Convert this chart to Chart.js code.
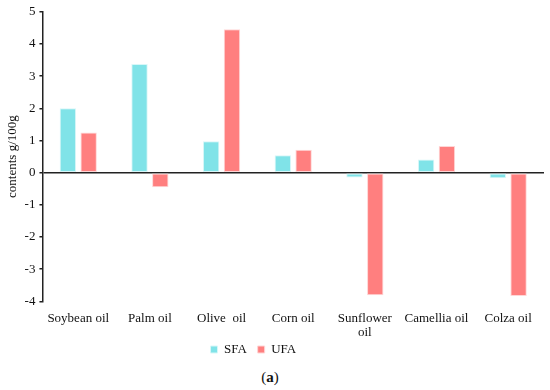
<!DOCTYPE html>
<html>
<head>
<meta charset="utf-8">
<script src="https://cdn.jsdelivr.net/npm/chart.js@4/dist/chart.umd.min.js"></script>
<style>
  body { margin: 0; background: #fff; }
  #wrap { position: relative; width: 550px; height: 366px; }
  #caption { position: absolute; top: 369px; left: 0; width: 540px; text-align: center;
             font: 15px "Liberation Serif", serif; color: #111; }
</style>
</head>
<body>
<div id="wrap"><canvas id="chart"></canvas></div>
<div id="caption">(<b>a</b>)</div>
<script>
// oils on the x axis
const oils = ['Soybean oil', 'Palm oil', 'Olive  oil', 'Corn oil', ['Sunflower', 'oil'], 'Camellia oil', 'Colza oil'];
// contents g/100g
const sfa = [2.0, 3.38, 0.98, 0.54, -0.15, 0.41, -0.17];
const ufa = [1.25, -0.45, 4.46, 0.71, -3.81, 0.83, -3.83];

const serif = '"Liberation Serif", "Times New Roman", serif';

// trailing spaces: gap between the legend items, and nudge the legend left of centre
const legendPad = ['   ', '             '];

new Chart(document.getElementById('chart'), {
  type: 'bar',
  data: {
    labels: oils,
    datasets: [
      { label: 'SFA', data: sfa, backgroundColor: '#80e3e8', borderColor: '#d8f7f8', borderWidth: 1, borderSkipped: false },
      { label: 'UFA', data: ufa, backgroundColor: '#ff7f7f', borderColor: '#ffd6d6', borderWidth: 1, borderSkipped: false }
    ]
  },
  options: {
    responsive: true,
    maintainAspectRatio: false,
    animation: false,
    layout: { padding: { top: 2, right: 6, left: 5, bottom: 0 } },
    datasets: { bar: { categoryPercentage: 0.58, barPercentage: 0.79 } },
    plugins: {
      legend: {
        position: 'bottom',
        labels: {
          font: { family: serif, size: 13 }, color: '#111', boxWidth: 7, boxHeight: 7, padding: 1,
          generateLabels: chart => Chart.defaults.plugins.legend.labels.generateLabels(chart)
            .map((l, i) => ({ ...l, text: l.text + legendPad[i] }))
        }
      },
      tooltip: { enabled: false }
    },
    scales: {
      x: {
        grid: { display: false },
        border: { display: false },
        ticks: { font: { family: serif, size: 13, lineHeight: 1.1 }, color: '#111', padding: 2, maxRotation: 0, autoSkip: false }
      },
      y: {
        min: -4, max: 5,
        ticks: { stepSize: 1, font: { family: serif, size: 13 }, color: '#111', padding: 4 },
        grid: {
          color: ctx => ctx.tick && ctx.tick.value === 0 ? '#222' : 'rgba(0,0,0,0)',
          lineWidth: 1.5,
          tickColor: '#222',
          tickLength: 3
        },
        border: { display: true, color: '#222', width: 1.5 },
        title: { display: true, text: 'contents g/100g', font: { family: serif, size: 13 }, color: '#111', padding: 0 }
      }
    }
  }
});
</script>
</body>
</html>
